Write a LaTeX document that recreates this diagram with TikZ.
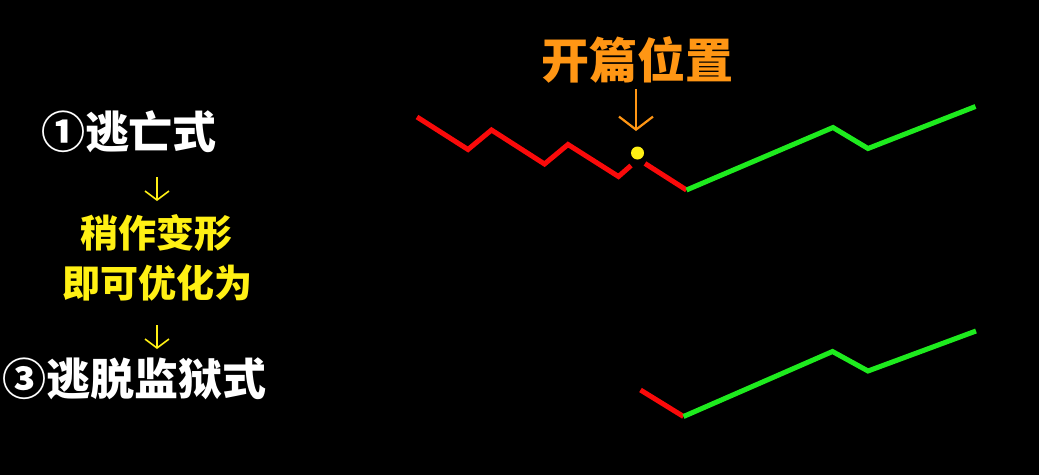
\documentclass[tikz,border=0pt]{standalone}
\usepackage{fontspec}
\newfontfamily\cjk{Noto Sans CJK SC}
\usetikzlibrary{arrows.meta}
\definecolor{myred}{RGB}{250,10,10}
\definecolor{mygreen}{RGB}{30,235,30}
\definecolor{myyellow}{RGB}{255,240,20}
\definecolor{myorange}{RGB}{255,150,20}
\begin{document}
\begin{tikzpicture}[x=1pt,y=-1pt,
  whitetxt/.style={text=white,font=\cjk\bfseries\fontsize{44}{48}\selectfont,inner sep=0pt},
  yellowtxt/.style={text=myyellow,font=\cjk\bfseries\fontsize{38}{42}\selectfont,inner sep=0pt},
  orangetxt/.style={text=myorange,font=\cjk\bfseries\fontsize{48}{52}\selectfont,inner sep=0pt},
  downarrow/.style={draw=myyellow,line width=1.6pt,-{Straight Barb[length=9pt,width=24pt,line width=1.6pt]}},
  redline/.style={draw=myred,line width=5pt,line join=miter},
  greenline/.style={draw=mygreen,line width=5pt,line join=miter}]
\fill[black] (0,0) rectangle (1039,475);
\useasboundingbox (0,0) rectangle (1039,475);

% left texts
\node[whitetxt] (t1) at (129,132) {①逃亡式};
\node[yellowtxt] (t2) at (156,233) {稍作变形};
\node[yellowtxt] (t3) at (157,283) {即可优化为};
\node[whitetxt] (t4) at (134,379) {③逃脱监狱式};
\coordinate (a1s) at (157,177);
\coordinate (a1e) at (157,201);
\coordinate (a2s) at (157,325);
\coordinate (a2e) at (157,349);
\draw[downarrow] (a1s) -- (a1e);
\draw[downarrow] (a2s) -- (a2e);

% top label
\node[orangetxt] (lab) at (637,60) {开篇位置};
\coordinate (oa1) at (636,89);
\coordinate (oa2) at (636,131);
\draw[draw=myorange,line width=2.2pt,-{Straight Barb[length=13pt,width=34pt,line width=2.2pt]}] (oa1) -- (oa2);

% top chart
\draw[redline] (417,117) -- (468,149.5) -- (491.5,130) -- (544.5,164) -- (568,144.5) -- (618.5,176.5) -- (631,165.5);
\draw[redline] (645,163.5) -- (686.5,190);
\draw[greenline] (686.5,190) -- (833,127.5) -- (868,148.5) -- (975.5,106.5);
\fill[myyellow] (637.5,153) circle (6.5);

% bottom chart
\draw[redline] (640.5,390) -- (683.5,416.5);
\draw[greenline] (683.5,416.5) -- (832.5,351.5) -- (868,371) -- (976,331);
\end{tikzpicture}
\end{document}
